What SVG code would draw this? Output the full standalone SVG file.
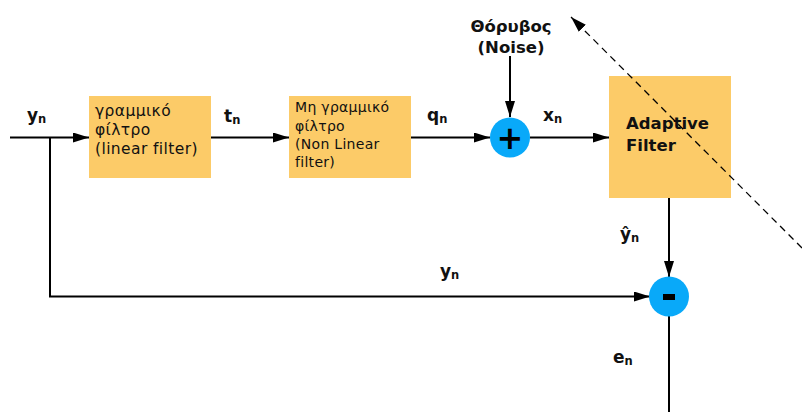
<svg xmlns="http://www.w3.org/2000/svg" width="802" height="412" viewBox="0 0 802 412">
  <style>
    .box { fill: #FCCB68; }
    .sum { fill: #09A9F9; }
    .wire { fill: none; stroke: #000; stroke-width: 2; }
    .dash { fill: none; stroke: #000; stroke-width: 1.3; stroke-dasharray: 7 5; }
    .t { font-family: "DejaVu Sans", Verdana, sans-serif; fill: #111; }
    .lbl { font-family: "DejaVu Sans", Verdana, sans-serif; font-weight: bold; font-size: 17px; fill: #111; }
    .sub { font-size: 11.5px; }
    .op { font-family: "DejaVu Sans", Verdana, sans-serif; font-weight: bold; fill: #000; text-anchor: middle; }
  </style>
  <defs>
    <marker id="arrow" viewBox="0 0 16 10" refX="16" refY="5" markerWidth="16" markerHeight="10" markerUnits="userSpaceOnUse" orient="auto">
      <path d="M0,0 L16,5 L0,10 Z" fill="#000"/>
    </marker>
  </defs>

  <rect width="802" height="412" fill="#fff"/>

  <g id="connectors">
    <!-- input to linear filter -->
    <line class="wire" x1="10" y1="137.5" x2="89" y2="137.5" marker-end="url(#arrow)"/>
    <!-- linear filter to nonlinear filter -->
    <line class="wire" x1="211" y1="137.5" x2="289" y2="137.5" marker-end="url(#arrow)"/>
    <!-- nonlinear filter to adder -->
    <line class="wire" x1="411" y1="137.5" x2="490" y2="137.5" marker-end="url(#arrow)"/>
    <!-- noise into adder -->
    <line class="wire" x1="510" y1="56" x2="510" y2="117" marker-end="url(#arrow)"/>
    <!-- adder to adaptive filter -->
    <line class="wire" x1="530" y1="137.5" x2="609" y2="137.5" marker-end="url(#arrow)"/>
    <!-- adaptive filter output to subtractor -->
    <line class="wire" x1="669" y1="198" x2="669" y2="277" marker-end="url(#arrow)"/>
    <!-- reference path to subtractor -->
    <polyline class="wire" points="50,137.5 50,296.5 650,296.5" marker-end="url(#arrow)"/>
    <!-- error output -->
    <line class="wire" x1="669" y1="316" x2="669" y2="412"/>
  </g>

  <g id="linear-filter">
    <rect class="box" x="89" y="96" width="122" height="82"/>
    <text class="t" font-size="15.5" letter-spacing="0.4" x="95" y="116">γραμμικό</text>
    <text class="t" font-size="15.5" letter-spacing="0.4" x="95" y="135">φίλτρο</text>
    <text class="t" font-size="15.5" letter-spacing="0.4" x="95" y="154">(linear filter)</text>
  </g>

  <g id="nonlinear-filter">
    <rect class="box" x="289" y="96" width="122" height="82"/>
    <text class="t" font-size="14" letter-spacing="0.3" x="295" y="112">Μη γραμμικό</text>
    <text class="t" font-size="14" letter-spacing="0.3" x="295" y="131">φίλτρο</text>
    <text class="t" font-size="14" letter-spacing="0.3" x="295" y="149">(Non Linear</text>
    <text class="t" font-size="14" letter-spacing="0.3" x="295" y="167">filter)</text>
  </g>

  <g id="adder">
    <circle class="sum" cx="510" cy="137.5" r="20"/>
    <text class="op" font-size="32" x="510" y="149">+</text>
  </g>

  <g id="noise">
    <text class="t" font-size="16.5" font-weight="bold" x="511" y="32" text-anchor="middle">Θόρυβος</text>
    <text class="t" font-size="16.5" font-weight="bold" x="511" y="53" text-anchor="middle">(Noise)</text>
  </g>

  <g id="adaptive-filter">
    <rect class="box" x="609" y="76" width="122" height="122"/>
    <text class="t" font-size="16.5" font-weight="bold" x="626" y="129">Adaptive</text>
    <text class="t" font-size="16.5" font-weight="bold" x="626" y="151">Filter</text>
  </g>

  <g id="subtractor">
    <circle class="sum" cx="669" cy="296.5" r="20"/>
    <rect x="663" y="294" width="12" height="6" fill="#000"/>
  </g>

  <!-- adaptation indicator drawn across the adaptive filter -->
  <g id="adaptation">
    <line class="dash" x1="802" y1="248" x2="571" y2="17" marker-end="url(#arrow)"/>
  </g>

  <g id="signal-labels">
    <text class="lbl" x="27" y="121">y<tspan class="sub" dy="2">n</tspan></text>
    <text class="lbl" x="224" y="122">t<tspan class="sub" dy="2">n</tspan></text>
    <text class="lbl" x="427" y="121">q<tspan class="sub" dy="2">n</tspan></text>
    <text class="lbl" x="543" y="121">x<tspan class="sub" dy="2">n</tspan></text>
    <text class="lbl" x="620" y="240">ŷ<tspan class="sub" dy="2">n</tspan></text>
    <text class="lbl" x="440" y="277">y<tspan class="sub" dy="2">n</tspan></text>
    <text class="lbl" x="613" y="363">e<tspan class="sub" dy="2">n</tspan></text>
  </g>
</svg>
